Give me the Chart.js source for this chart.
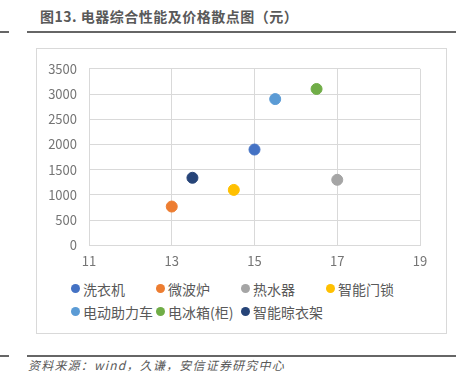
<!DOCTYPE html>
<html>
<head>
<meta charset="utf-8">
<script src="https://cdn.jsdelivr.net/npm/chart.js@4.4.0/dist/chart.umd.min.js"></script>
<style>
  body { margin: 0; width: 461px; height: 384px; background: #fff; position: relative; overflow: hidden;
         font-family: "Noto Sans CJK SC", "Noto Sans", sans-serif; }
  #titulo { position: absolute; left: 40px; top: 6px; font-size: 14px; font-weight: bold; color: #595959; letter-spacing: 0.5px; }
  .linea { position: absolute; height: 2px; background: #666; }
  #caja { position: absolute; left: 36px; top: 48px; width: 409px; height: 284px; border: 1px solid #d9d9d9; }
  #lienzo { position: absolute; left: 0; top: 0; }
  #leyenda { position: absolute; left: 34px; top: 228px; width: 370px; display: flex; flex-wrap: wrap; }
  .item { min-width: 85px; height: 23px; display: flex; align-items: center; font-size: 14px; color: #595959; white-space: nowrap; }
  .punto { width: 9px; height: 9px; border-radius: 50%; margin-right: 3px; }
  #fuente { position: absolute; left: 28px; top: 356px; font-size: 12px; font-style: italic; color: #595959; letter-spacing: 1.2px; }
</style>
</head>
<body>
<div id="titulo">图13. 电器综合性能及价格散点图（元）</div>
<div class="linea" style="left:0;top:31px;width:9px"></div>
<div class="linea" style="left:27px;top:31px;width:429px"></div>
<div id="caja">
  <canvas id="lienzo" width="409" height="228"></canvas>
  <div id="leyenda"></div>
</div>
<div class="linea" style="left:0;top:355px;width:9px"></div>
<div class="linea" style="left:27px;top:355px;width:429px"></div>
<div id="fuente">资料来源：wind，久谦，安信证券研究中心</div>

<script>
// --- Datos ---
const categorias = ["洗衣机", "微波炉", "热水器", "智能门锁", "电动助力车", "电冰箱(柜)", "智能晾衣架"];
const rendimiento = [15, 13, 17, 14.5, 15.5, 16.5, 13.5];   // eje x
const precios = [1900, 770, 1300, 1100, 2900, 3100, 1340];  // eje y
const colores = ["#4472C4", "#ED7D31", "#A5A5A5", "#FFC000", "#5B9BD5", "#70AD47", "#264478"];
const ticksX = [11, 13, 15, 17, 19];
const ticksY = [0, 500, 1000, 1500, 2000, 2500, 3000, 3500];

const gris = "#d9d9d9";
const fuenteTicks = { family: "Noto Sans CJK SC", size: 13 };

const datasets = categorias.map((nombre, i) => ({
    label: nombre,
    data: [{ x: rendimiento[i], y: precios[i] }],
    backgroundColor: colores[i],
    borderColor: colores[i],
    pointRadius: 5.5,
    pointHoverRadius: 5.5
}));

const grafica = new Chart(document.getElementById("lienzo").getContext("2d"), {
    type: "scatter",
    data: { datasets: datasets },
    options: {
        responsive: false,
        animation: false,
        layout: { padding: { left: 0, right: 26, top: 14, bottom: 0 } },
        plugins: { legend: { display: false }, tooltip: { enabled: false } },
        scales: {
            x: {
                min: 11, max: 19,
                afterBuildTicks: s => { s.ticks = ticksX.map(v => ({ value: v })); },
                grid: { color: gris, drawTicks: false },
                border: { color: gris },
                ticks: { color: "#757575", font: fuenteTicks, padding: 8, callback: v => String(v) }
            },
            y: {
                min: 0, max: 3500,
                afterBuildTicks: s => { s.ticks = ticksY.map(v => ({ value: v })); },
                afterFit: s => { s.width = 52; },
                grid: { color: gris, drawTicks: false },
                border: { color: gris },
                ticks: { color: "#757575", font: fuenteTicks, padding: 12, callback: v => String(v) }
            }
        }
    }
});

// --- Leyenda ---
const leyenda = document.getElementById("leyenda");
grafica.data.datasets.forEach(ds => {
    const item = document.createElement("div");
    item.className = "item";
    item.innerHTML = '<span class="punto" style="background:' + ds.backgroundColor + '"></span>' + ds.label;
    leyenda.appendChild(item);
});
</script>
</body>
</html>
